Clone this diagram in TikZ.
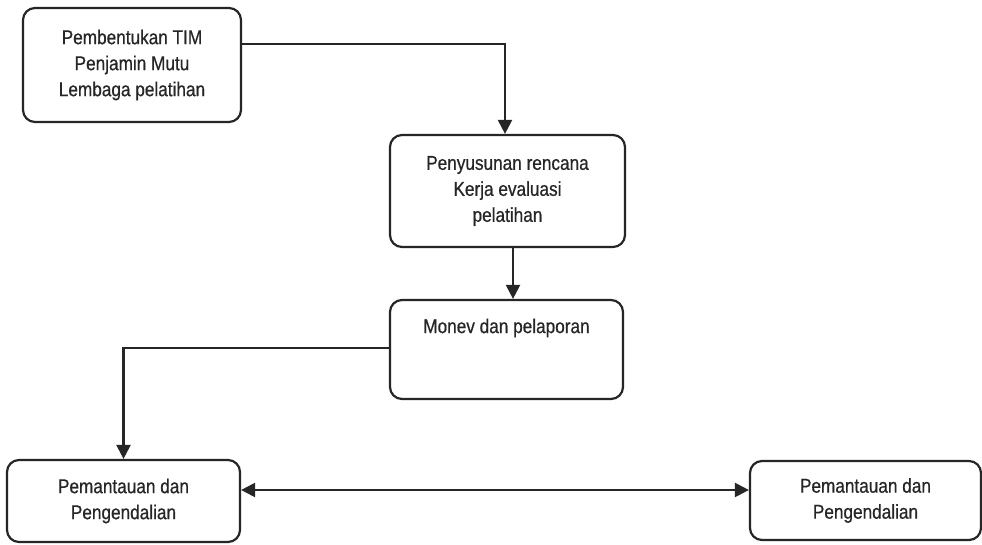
\documentclass[tikz,border=0pt]{standalone}
\usepackage{fontspec}
\setmainfont{Liberation Sans}[FakeStretch=0.86,FakeBold=0.6]
\usetikzlibrary{arrows.meta}
\begin{document}
\begin{tikzpicture}[x=1pt,y=-1pt,
  box/.style={draw=black!85, line width=2.2pt, rounded corners=12pt, fill=white,
              align=center, font=\fontsize{20}{26}\selectfont, text=black!85, inner sep=0pt},
  lbl/.style={align=center, font=\fontsize{20}{26}\selectfont, text=black!85, inner sep=0pt},
  conn/.style={draw=black!85, line width=2.2pt},
  arr/.style={conn, -{Triangle[width=14pt,length=14pt]}},
  darr/.style={conn, {Triangle[width=14pt,length=14pt]}-{Triangle[width=14pt,length=14pt]}}]
  \useasboundingbox[fill=white] (0,0) rectangle (982,545);

  % process boxes
  \node[box, minimum width=218pt, minimum height=114pt] (tim) at (132,65)
    {Pembentukan TIM\\Penjamin Mutu\\Lembaga pelatihan};
  \node[box, minimum width=235pt, minimum height=112pt] (rencana) at (507.5,191)
    {Penyusunan rencana\\Kerja evaluasi\\pelatihan};
  \node[box, minimum width=233pt, minimum height=99pt] (monev) at (506.5,349.5) {};
  \node[lbl, anchor=center] (monevtxt) at ([yshift=-29pt]monev.north) {Monev dan pelaporan};
  \node[box, minimum width=233pt, minimum height=82pt] (pantauA) at (123.5,501)
    {Pemantauan dan\\Pengendalian};
  \node[box, minimum width=231pt, minimum height=79pt] (pantauB) at (865.5,500.5)
    {Pemantauan dan\\Pengendalian};

  % connectors
  \draw[arr] ([yshift=21pt]tim.east) -| ([xshift=-2.5pt]rencana.north);
  \draw[arr] ([xshift=5.5pt]rencana.south) -- ([xshift=5.5pt]rencana.south |- monev.north);
  \draw[arr] ([yshift=1.5pt]monev.west) -| (pantauA.north);
  \draw[darr] ([yshift=11pt]pantauA.east) -- ([yshift=11pt]pantauA.east -| pantauB.west);
\end{tikzpicture}
\end{document}
